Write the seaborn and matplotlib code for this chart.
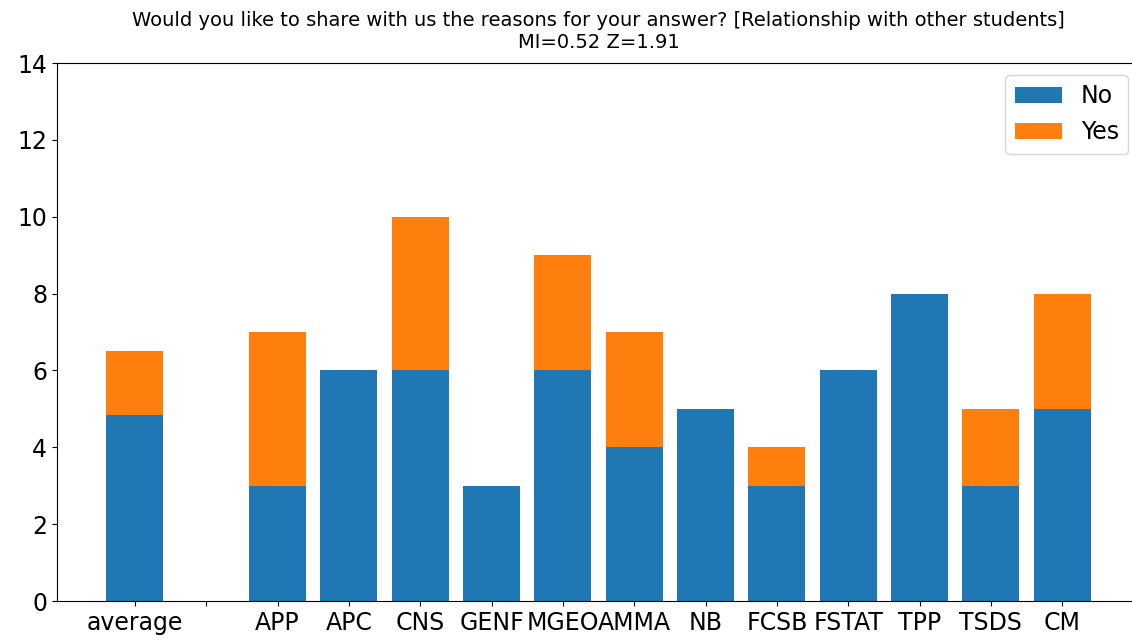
import pandas as pd
import matplotlib
matplotlib.use("Agg")
import matplotlib.pyplot as plt
import seaborn as sns

categories = ["average", "", "APP", "APC", "CNS", "GENF", "MGEO", "AMMA",
              "NB", "FCSB", "FSTAT", "TPP", "TSDS", "CM"]
no_counts = [4.83, 0, 3, 6, 6, 3, 6, 4, 5, 3, 6, 8, 3, 5]
yes_counts = [1.67, 0, 4, 0, 4, 0, 3, 3, 0, 1, 0, 0, 2, 3]
title = ("Would you like to share with us the reasons for your answer? "
         "[Relationship with other students]\nMI=0.52 Z=1.91")

df = pd.DataFrame({"group": categories, "No": no_counts, "Yes": yes_counts})
df["total"] = df["No"] + df["Yes"]

plt.rcParams["font.family"] = ["DejaVu Sans"]

fig = plt.figure(figsize=(11.32, 6.43), dpi=100)
# axes run a little past the right edge, as in the cropped original
ax = fig.add_axes([0.0504, 0.0653, 0.9567, 0.8367])

sns.barplot(data=df, x="group", y="total", order=categories, color="#ff7f0e",
            saturation=1, width=0.8, linewidth=0, label="Yes", ax=ax)
sns.barplot(data=df, x="group", y="No", order=categories, color="#1f77b4",
            saturation=1, width=0.8, linewidth=0, label="No", ax=ax)

ax.set_xlim(-1.09, 14.09)
ax.set_ylim(0, 14)
ax.set_yticks(range(0, 15, 2))
ax.set_xlabel("")
ax.set_ylabel("")
ax.spines["right"].set_visible(False)
ax.tick_params(labelsize=17)
ax.set_title(title, fontsize=14, pad=11)

handles, labels = ax.get_legend_handles_labels()
order = [labels.index("No"), labels.index("Yes")]
ax.legend([handles[i] for i in order], [labels[i] for i in order],
          loc="upper right", fontsize=17, bbox_to_anchor=(1.0, 1.0))

fig.savefig("out.png", dpi=100)
